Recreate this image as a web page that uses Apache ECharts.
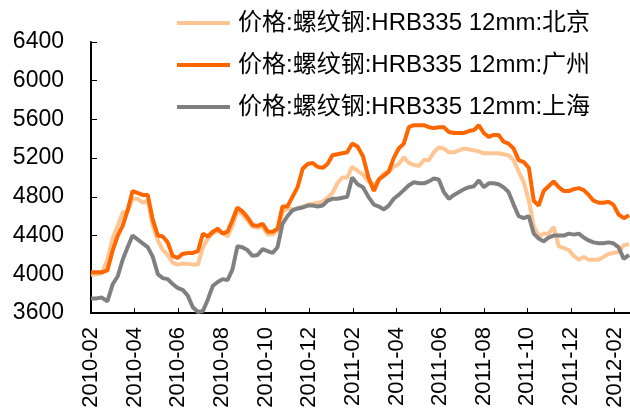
<!DOCTYPE html>
<html>
<head>
    <meta charset="UTF-8">
    <title>螺纹钢价格</title>
    <script src="https://cdn.jsdelivr.net/npm/echarts@6/dist/echarts.min.js"></script>
    <style>
        body { margin: 0; background: #fff; }
        #chart { width: 630px; height: 413px; }
    </style>
</head>
<body>
    <div id="chart"></div>
    <script>
    // weekly samples starting 2010-02-01
    const startDate = '2010-02-01';
    const stepDays = 7;

    const seriesNames = [
        '价格:螺纹钢:HRB335 12mm:北京',
        '价格:螺纹钢:HRB335 12mm:广州',
        '价格:螺纹钢:HRB335 12mm:上海'
    ];

    const beijing = [
        3993, 4000, 4010, 4150, 4380, 4500, 4640, 4650, 4780, 4780, 4740, 4760, 4500, 4350, 4250, 4200, 4120, 4100, 4110, 4110, 4100, 4100, 4280, 4370, 4420, 4450, 4430,
        4390, 4500, 4650, 4620, 4560, 4490, 4480, 4490, 4410, 4410, 4450, 4640, 4680, 4670, 4680, 4700, 4720, 4730, 4740, 4750, 4790, 4840, 4940, 5000, 5000, 5110, 5070,
        5030, 4960, 4920, 4980, 5040, 5060, 5110, 5140, 5210, 5150, 5130, 5120, 5180, 5180, 5260, 5310, 5300, 5260, 5260, 5280, 5300, 5290, 5280, 5270, 5250, 5250,
        5250, 5250, 5240, 5230, 5180, 5060, 4950, 4760, 4500, 4390, 4420, 4420, 4490, 4290, 4270, 4250, 4190, 4150, 4180, 4150, 4150, 4150, 4180, 4210, 4220, 4230, 4300, 4310
    ];
    const guangzhou = [
        4020, 4020, 4020, 4040, 4250, 4400, 4500, 4660, 4860, 4840, 4820, 4820, 4560, 4400, 4390, 4330, 4190, 4170, 4210, 4220, 4220, 4240, 4420, 4390, 4440, 4470, 4420,
        4440, 4560, 4690, 4650, 4590, 4510, 4500, 4520, 4440, 4440, 4470, 4700, 4700, 4800, 4900, 5090, 5140, 5150, 5110, 5100, 5140, 5230, 5240, 5250, 5260, 5350, 5320,
        5220, 5000, 4860, 4980, 5020, 5060, 5200, 5300, 5350, 5520, 5540, 5540, 5540, 5520, 5510, 5520, 5520, 5470, 5460, 5460, 5460, 5480, 5490, 5540, 5460, 5420,
        5440, 5440, 5370, 5350, 5300, 5180, 5160, 5100, 4760, 4710, 4860, 4910, 4960, 4900, 4860, 4860, 4880, 4890, 4870, 4820, 4760, 4740, 4740, 4750, 4720, 4620, 4580, 4610
    ];
    const shanghai = [
        3751, 3751, 3760, 3720, 3900, 3980, 4150, 4280, 4400, 4360, 4320, 4280, 4180, 4000, 3960, 3950, 3900, 3860, 3840, 3780, 3660, 3610, 3620, 3740, 3880, 3920, 3950,
        3940, 4050, 4290, 4280, 4250, 4190, 4200, 4260, 4240, 4220, 4280, 4520, 4600, 4660, 4680, 4690, 4710, 4710, 4700, 4710, 4760, 4780, 4780, 4790, 4800, 5000, 4930,
        4900, 4800, 4720, 4700, 4670, 4710, 4780, 4820, 4870, 4920, 4950, 4940, 4940, 4960, 4990, 4980, 4850, 4780, 4820, 4850, 4880, 4900, 4910, 4970, 4900, 4940,
        4940, 4930, 4900, 4850, 4720, 4600, 4580, 4600, 4420, 4370, 4340, 4380, 4400, 4400, 4400, 4420, 4410, 4420, 4380, 4350, 4330, 4320, 4320, 4330, 4320, 4280, 4160, 4200
    ];

    const colors = ['#FFC592', '#FF6600', '#808080'];

    // build date list
    const dates = [];
    (function () {
        const d0 = new Date(startDate + 'T00:00:00Z');
        for (let i = 0; i < beijing.length; i++) {
            dates.push(new Date(d0.getTime() + i * stepDays * 86400000));
        }
    })();

    // position in months since 2010-02 (axis spaces months evenly)
    function monthPos(d) {
        const y = d.getUTCFullYear(), m = d.getUTCMonth(), day = d.getUTCDate();
        const dim = new Date(Date.UTC(y, m + 1, 0)).getUTCDate();
        return (y - 2010) * 12 + (m - 1) + (day - 1) / dim;
    }

    function pairs(values) {
        return values.map(function (v, i) { return [monthPos(dates[i]), v]; });
    }

    const font = 'Liberation Sans, Arial, sans-serif';
    const chart = echarts.init(document.getElementById('chart'));

    chart.setOption({
        backgroundColor: '#fff',
        animation: false,
        textStyle: { fontFamily: font },
        grid: { left: 91, right: 0, top: 42, bottom: 100 },
        legend: {
            orient: 'vertical',
            left: 172,
            top: 6,
            itemWidth: 53,
            itemHeight: 4,
            itemGap: 18,
            icon: 'rect',
            textStyle: { fontSize: 24, color: '#000', padding: [0, 0, 0, 3],
                         fontFamily: 'Liberation Sans, "Noto Sans CJK SC", sans-serif' },
            data: seriesNames
        },
        xAxis: {
            type: 'value',
            min: 0,
            max: 24.7,
            interval: 2,
            axisLine: { lineStyle: { color: '#000', width: 2 } },
            axisTick: { inside: true, length: 5, lineStyle: { color: '#000' } },
            splitLine: { show: false },
            axisLabel: {
                rotate: 90,
                margin: 14,
                fontSize: 22,
                color: '#000',
                showMaxLabel: false,
                formatter: function (v) {
                    if (Math.abs(v - Math.round(v)) > 1e-6) return '';
                    const t = Math.round(v) + 1;
                    const y = 2010 + Math.floor(t / 12);
                    const m = t % 12 + 1;
                    return y + '-' + (m < 10 ? '0' + m : m);
                }
            }
        },
        yAxis: {
            type: 'value',
            min: 3600,
            max: 6400,
            interval: 400,
            axisLine: { show: true, lineStyle: { color: '#000', width: 2 } },
            axisTick: { show: true, inside: true, length: 6, lineStyle: { color: '#000' } },
            splitLine: { show: false },
            axisLabel: { fontSize: 23, color: '#000', margin: 27, formatter: function (v) { return String(v); } }
        },
        series: [
            { name: seriesNames[0], type: 'line', data: pairs(beijing), showSymbol: false, symbol: 'none',
              lineStyle: { color: colors[0], width: 4 }, itemStyle: { color: colors[0] } },
            { name: seriesNames[1], type: 'line', data: pairs(guangzhou), showSymbol: false, symbol: 'none',
              lineStyle: { color: colors[1], width: 4 }, itemStyle: { color: colors[1] } },
            { name: seriesNames[2], type: 'line', data: pairs(shanghai), showSymbol: false, symbol: 'none',
              lineStyle: { color: colors[2], width: 4 }, itemStyle: { color: colors[2] } }
        ]
    });
    </script>
</body>
</html>
